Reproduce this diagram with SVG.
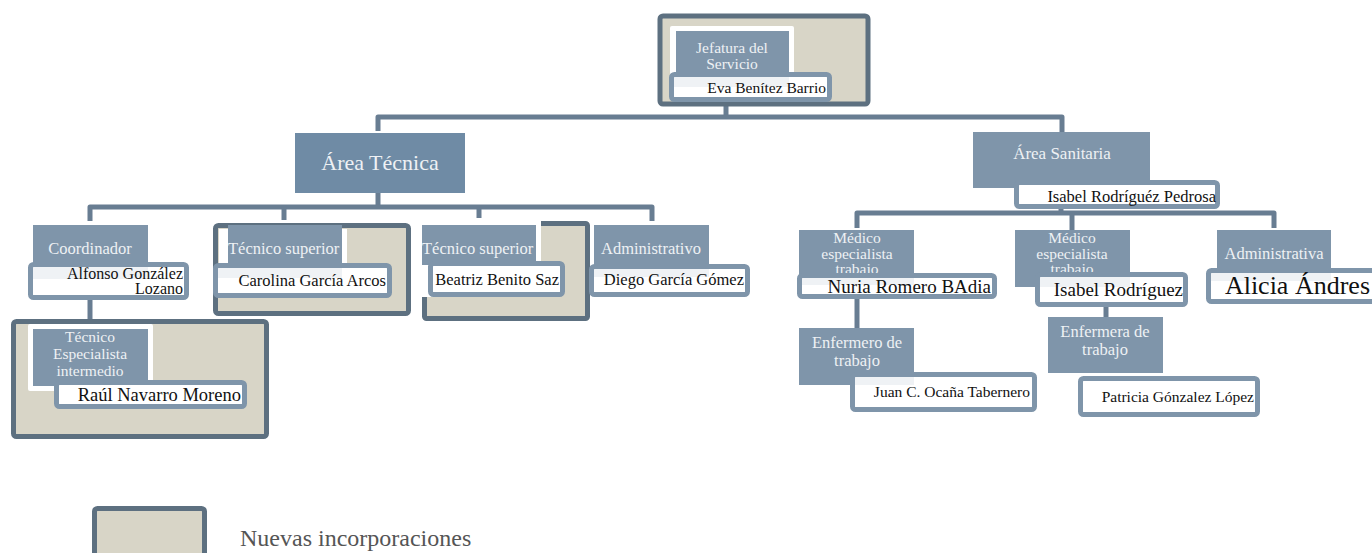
<svg xmlns="http://www.w3.org/2000/svg" width="1372" height="553" viewBox="0 0 1372 553">
<style>
.frame{fill:#d8d5c7;stroke:#5d7080;stroke-width:5}
.wb{fill:#ffffff}
.tb{fill:#7f95aa}
.tb2{fill:#6f8ba5}
.nb{fill:#ffffff;stroke:#7f95aa;stroke-width:5}
.tint{fill:#7f95aa;opacity:0.12}
.con{fill:none;stroke:#687d92;stroke-width:5;stroke-linejoin:round}
.tt{font-family:"Liberation Serif",serif;fill:#eef1f4;text-anchor:middle}
.ml{font-size:15.5px}
.nt{font-family:"Liberation Serif",serif;fill:#111111;text-anchor:end}
</style>
<defs>
<clipPath id="c1"><rect x="799" y="230" width="115" height="43"/></clipPath>
<clipPath id="c2"><rect x="1015" y="230" width="115" height="42"/></clipPath>
</defs>
<g id="connectors">
<path class="con" d="M726,102 V117"/>
<path class="con" d="M378,131 V117 H1062 V133"/>
<path class="con" d="M378,193 V207"/>
<path class="con" d="M90,221 V207 H652 V221"/>
<path class="con" d="M284,207 V220"/>
<path class="con" d="M479,207 V220"/>
<path class="con" d="M90,300 V322"/>
<path class="con" d="M1061,209 V213"/>
<path class="con" d="M857,228 V213 H1274 V228"/>
<path class="con" d="M1072,213 V230"/>
<path class="con" d="M857,299 V328"/>
<path class="con" d="M1106,307 V317"/>
</g>
<g id="n-jefatura">
<rect class="frame" x="660" y="16" width="208" height="88" rx="3"/>
<rect class="wb" x="670" y="26" width="124" height="50" rx="2"/>
<rect class="tb" x="676" y="31" width="113" height="46"/>
<text class="tt ml" x="732" y="53">Jefatura del</text>
<text class="tt ml" x="732" y="69">Servicio</text>
<rect class="nb" x="671.5" y="74.5" width="158" height="25" rx="3"/>
<rect class="tint" x="674" y="77" width="115" height="10"/>
<text class="nt" style="font-size:15.5px" x="826" y="93">Eva Benítez Barrio</text>
</g>
<g id="n-area-tecnica">
<rect class="tb2" x="295" y="133" width="170" height="60"/>
<text class="tt" style="font-size:22px" x="380" y="170">Área Técnica</text>
</g>
<g id="n-area-sanitaria">
<rect class="tb" x="973" y="132" width="177" height="56"/>
<text class="tt" style="font-size:17px" x="1062" y="159">Área Sanitaria</text>
<rect class="nb" x="1016.5" y="182.5" width="201" height="24" rx="3"/>
<text class="nt" style="font-size:16.5px" x="1216" y="202">Isabel Rodríguéz Pedrosa</text>
</g>
<g id="n-coordinador">
<rect class="tb" x="33" y="225" width="115" height="45"/>
<text class="tt" style="font-size:16.5px" x="90" y="254">Coordinador</text>
<rect class="nb" x="30.5" y="264.5" width="156" height="33" rx="3"/>
<rect class="tint" x="33" y="267" width="115" height="12"/>
<text class="nt" style="font-size:16px" x="183" y="279">Alfonso González</text>
<text class="nt" style="font-size:16px" x="183" y="294">Lozano</text>
</g>
<g id="n-tecnico-especialista">
<rect class="frame" x="13.5" y="321.5" width="253" height="115" rx="3"/>
<rect class="wb" x="28" y="324" width="125" height="67" rx="2"/>
<rect class="tb" x="33" y="329" width="115" height="57"/>
<text class="tt ml" x="90" y="342">Técnico</text>
<text class="tt ml" x="90" y="359">Especialista</text>
<text class="tt ml" x="90" y="376">intermedio</text>
<rect class="nb" x="56.5" y="382.5" width="188" height="24" rx="3"/>
<text class="nt" style="font-size:18.5px" x="241" y="401">Raúl Navarro Moreno</text>
</g>
<g id="n-carolina">
<rect class="frame" x="215.5" y="225.5" width="193" height="88" rx="3"/>
<rect class="wb" x="219" y="229" width="128" height="38"/>
<rect class="tb" x="228" y="225" width="114" height="40"/>
<text class="tt" style="font-size:16.5px;text-anchor:start" x="228" y="254">Técnico superior</text>
<rect class="nb" x="215.5" y="265.5" width="174" height="30" rx="3"/>
<rect class="tint" x="218" y="268" width="124" height="10"/>
<text class="nt" style="font-size:16.5px" x="386" y="286">Carolina García Arcos</text>
</g>
<g id="n-beatriz">
<rect class="frame" x="424.5" y="223.5" width="163" height="95" rx="2"/>
<rect class="wb" x="414" y="218" width="127" height="79"/>
<rect class="tb" x="422" y="225" width="114" height="40"/>
<text class="tt" style="font-size:16.5px;text-anchor:start" x="422" y="254">Técnico superior</text>
<rect class="nb" x="430.5" y="263.5" width="132" height="31" rx="3"/>
<text class="nt" style="font-size:16.5px" x="559" y="285">Beatriz Benito Saz</text>
</g>
<g id="n-administrativo">
<rect class="tb" x="594" y="225" width="115" height="42"/>
<text class="tt" style="font-size:16.5px" x="651" y="254">Administrativo</text>
<rect class="nb" x="591.5" y="266.5" width="156" height="28" rx="3"/>
<rect class="tint" x="594" y="269" width="115" height="8"/>
<text class="nt" style="font-size:16.5px" x="744" y="285">Diego  García Gómez</text>
</g>
<g id="n-medico1">
<rect class="tb" x="799" y="230" width="115" height="45"/>
<g clip-path="url(#c1)">
<text class="tt ml" x="857" y="243">Médico</text>
<text class="tt ml" x="857" y="259">especialista</text>
<text class="tt ml" x="857" y="274">trabajo</text>
</g>
<rect class="nb" x="799.5" y="275.5" width="195" height="21" rx="3"/>
<rect class="tint" x="802" y="278" width="112" height="7"/>
<text class="nt" style="font-size:19px" x="991" y="293">Nuria Romero BAdia</text>
</g>
<g id="n-enfermero">
<rect class="tb" x="799" y="328" width="115" height="57"/>
<text class="tt" style="font-size:16.5px" x="857" y="348">Enfermero de</text>
<text class="tt" style="font-size:16.5px" x="857" y="366">trabajo</text>
<rect class="nb" x="852.5" y="374.5" width="182" height="35" rx="3"/>
<rect class="tint" x="855" y="377" width="59" height="8"/>
<text class="nt" style="font-size:15.5px" x="1030" y="397">Juan C. Ocaña Tabernero</text>
</g>
<g id="n-medico2">
<rect class="tb" x="1015" y="230" width="115" height="57"/>
<g clip-path="url(#c2)">
<text class="tt ml" x="1072" y="243">Médico</text>
<text class="tt ml" x="1072" y="259">especialista</text>
<text class="tt ml" x="1072" y="274">trabajo</text>
</g>
<rect class="nb" x="1037.5" y="274.5" width="148" height="30" rx="3"/>
<rect class="tint" x="1040" y="277" width="90" height="10"/>
<text class="nt" style="font-size:19px" x="1183" y="296">Isabel Rodríguez</text>
</g>
<g id="n-enfermera">
<rect class="tb" x="1048" y="317" width="115" height="56"/>
<text class="tt" style="font-size:16.5px" x="1105" y="337">Enfermera de</text>
<text class="tt" style="font-size:16.5px" x="1105" y="355">trabajo</text>
<rect class="nb" x="1080.5" y="378.5" width="177" height="36" rx="3"/>
<text class="nt" style="font-size:15.5px" x="1254" y="402">Patricia Gónzalez López</text>
</g>
<g id="n-administrativa">
<rect class="tb" x="1217" y="230" width="114" height="42"/>
<text class="tt" style="font-size:16.5px" x="1274" y="259">Administrativa</text>
<rect class="nb" x="1208.5" y="270.5" width="170" height="31" rx="3"/>
<rect class="tint" x="1211" y="273" width="120" height="8"/>
<text class="nt" style="font-size:26px" x="1370" y="294">Alicia Ándres</text>
</g>
<g id="legend">
<rect class="frame" x="94.5" y="508.5" width="110" height="50" rx="3"/>
<text x="240" y="546" style="font-family:'Liberation Serif',serif;font-size:24px;fill:#555555">Nuevas incorporaciones</text>
</g>
</svg>
